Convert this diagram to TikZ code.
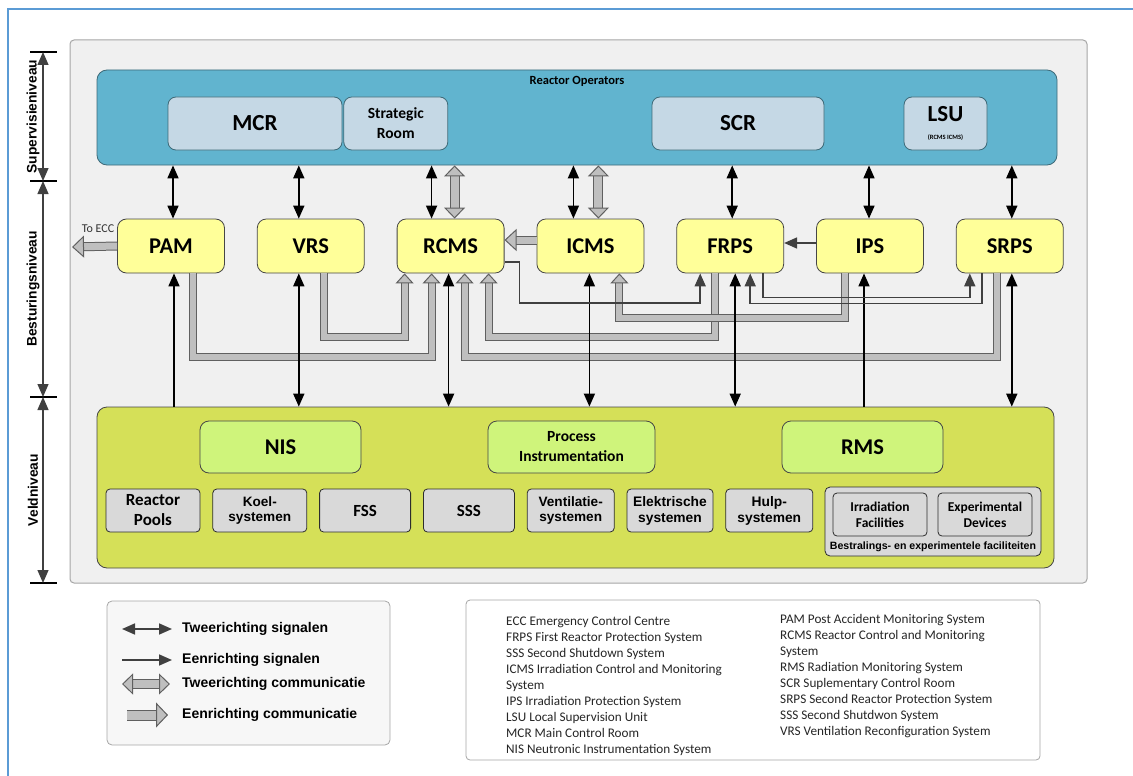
\documentclass[tikz,border=0pt]{standalone}
\usepackage{fontspec}
\setmainfont{Carlito}
\newfontfamily\arialfont{Liberation Sans}
\usetikzlibrary{arrows.meta,positioning}
\definecolor{pageblue}{HTML}{5B9BD5}
\definecolor{framefill}{HTML}{F0F0F0}
\definecolor{frameline}{HTML}{A6A6A6}
\definecolor{opsblue}{HTML}{61B4CF}
\definecolor{opsline}{HTML}{3E6A78}
\definecolor{roomfill}{HTML}{C5D8E5}
\definecolor{ctrlyellow}{HTML}{FFFF99}
\definecolor{fieldgreen}{HTML}{D5E058}
\definecolor{instgreen}{HTML}{CFF47B}
\definecolor{sysgray}{HTML}{D9D9D9}
\definecolor{commfill}{HTML}{BFBFBF}
\definecolor{commline}{HTML}{606060}
\definecolor{sigdark}{HTML}{404040}

\begin{document}
\begin{tikzpicture}[x=1pt,y=-1pt,
node distance=32pt,
boxline/.style={draw=gray!55!black,line width=0.8pt},
room/.style={boxline,draw=opsline,rounded corners=8pt,fill=roomfill,align=center,
  font=\fontsize{23}{24}\selectfont\bfseries,minimum height=53pt},
ctrl/.style={boxline,rounded corners=9pt,fill=ctrlyellow,
  font=\fontsize{22.5}{24}\selectfont\bfseries,minimum width=107pt,minimum height=54pt},
inst/.style={boxline,rounded corners=9pt,fill=instgreen,align=center,
  font=\fontsize{22.5}{24}\selectfont\bfseries,minimum width=161pt,minimum height=52pt},
sys/.style={boxline,draw=gray!35!black,rounded corners=4pt,fill=sysgray,align=center,
  font=\arialfont\fontsize{13.6}{15}\selectfont\bfseries,minimum height=43pt,inner sep=1pt},
syscal/.style={sys,font=\fontsize{17}{20}\selectfont\bfseries},
sig/.style={line width=1.7pt,-{Triangle[length=13pt,width=11pt]}},
sig2/.style={line width=1.7pt,{Triangle[length=13pt,width=11pt]}-{Triangle[length=13pt,width=11pt]}},
comm/.style={draw=commline,line width=1pt,double=commfill,double distance=6pt,
  -{Triangle[length=10pt,width=18pt,line width=1pt,fill=commfill]}},
commbig/.style={comm,double distance=7pt,
  -{Triangle[length=12pt,width=22pt,line width=1pt,fill=commfill]}},
comm2/.style={draw=commline,line width=1pt,double=commfill,double distance=8pt,
  {Triangle[length=11pt,width=21pt,line width=1pt,fill=commfill]}-{Triangle[length=11pt,width=21pt,line width=1pt,fill=commfill]}},
legtxt/.style={anchor=west,inner sep=0pt,font=\arialfont\fontsize{14}{15}\selectfont\bfseries},
lvl/.style={rotate=90,font=\arialfont\fontsize{13.8}{15}\selectfont\bfseries}
]
\useasboundingbox (0,0) rectangle (1133,776);
\draw[pageblue,line width=2pt] (8,776) -- (8,9) -- (1133,9);

% levels on the left
\foreach \y [count=\i] in {52,181,397,583}{
  \coordinate (lv\i) at (43,\y);
  \draw[line width=1.3pt] ([xshift=-13pt]lv\i) -- ([xshift=14pt]lv\i);
}
\foreach \a/\b in {lv1/lv2,lv2/lv3,lv3/lv4}
  \draw[sig2,draw=sigdark,line width=1.2pt] (\a) -- (\b);
\node[lvl] (sup) at (33,116.5) {Supervisieniveau};
\node[lvl] (bes) at (33,289) {Besturingsniveau};
\node[lvl] (vel) at (33,490) {Veldniveau};

\node[draw=frameline,fill=framefill,rounded corners=4pt,line width=1pt,
  minimum width=1017pt,minimum height=543pt] (frame) at (578.5,311.5) {};

% supervision
\node[draw=opsline,fill=opsblue,rounded corners=10pt,line width=0.8pt,
  minimum width=960pt,minimum height=95pt] (ops) at (577,117.5) {};
\node[font=\fontsize{12.5}{13}\selectfont\bfseries] (opslbl) at (577,81) {Reactor Operators};
\node[room,minimum width=174pt] (mcr) at (255,123.5) {MCR};
\node[room,minimum width=104pt,right=1pt of mcr,
  font=\fontsize{15.5}{20}\selectfont\bfseries] (strat) {Strategic\\Room};
\node[room,minimum width=172pt] (scr) at (738,123.5) {SCR};
\node[room,minimum width=83pt] (lsu) at (945.5,123.5)
  {LSU\\[-6pt]{\fontsize{6.5}{7}\selectfont (RCMS ICMS)}};

% control
\node[ctrl] (pam) at (171,246) {PAM};
\node[ctrl,right=of pam] (vrs) {VRS};
\node[ctrl,right=of vrs] (rcms) {RCMS};
\node[ctrl,right=of rcms] (icms) {ICMS};
\node[ctrl,right=of icms] (frps) {FRPS};
\node[ctrl,right=of frps] (ips) {IPS};
\node[ctrl,right=of ips] (srps) {SRPS};
\coordinate (ecc) at (72,247);
\node[font=\fontsize{12}{12}\selectfont,text=black!80] (ecclbl) at (98,229) {To ECC};

% field
\node[boxline,fill=fieldgreen,rounded corners=10pt,
  minimum width=957pt,minimum height=161pt] (field) at (575.5,487.5) {};
\node[inst] (nis) at (280.5,447) {NIS};
\node[inst,minimum width=167pt,font=\fontsize{15.5}{20}\selectfont\bfseries]
  (proc) at (571.5,447) {Process\\Instrumentation};
\node[inst] (rms) at (862.5,447) {RMS};
\node[syscal,minimum width=94pt] (pools) at (153,510.5) {Reactor\\Pools};
\node[sys,minimum width=94pt,right=12pt of pools] (koel) {Koel-\\systemen};
\node[syscal,minimum width=91pt,right=12pt of koel] (fss) {FSS};
\node[syscal,minimum width=91pt,right=12pt of fss] (sss) {SSS};
\node[sys,minimum width=87pt,right=12pt of sss] (vent) {Ventilatie-\\systemen};
\node[sys,minimum width=86pt,right=12pt of vent,font=\arialfont\fontsize{13.8}{16}\selectfont\bfseries]
  (elek) {Elektrische\\systemen};
\node[sys,minimum width=87pt,right=12pt of elek,font=\arialfont\fontsize{13.8}{16}\selectfont\bfseries]
  (hulp) {Hulp-\\systemen};
\node[sys,minimum width=216pt,minimum height=69pt,rounded corners=5pt] (fac) at (933,521.5) {};
\node[syscal,minimum width=94pt,font=\fontsize{13.5}{16}\selectfont\bfseries] (irr) at (880,514.5)
  {Irradiation\\Facilities};
\node[syscal,minimum width=94pt,font=\fontsize{13.5}{16}\selectfont\bfseries] (exp) at (985,514.5)
  {Experimental\\Devices};
\node[font=\arialfont\fontsize{10.6}{11}\selectfont\bfseries] (faclbl) at (933,547)
  {Bestralings- en experimentele faciliteiten};

% communication
\draw[comm] ([xshift=13pt]vrs.south) -- ++(0,64) -| ([xshift=-46pt]rcms.south);
\draw[comm] ([xshift=22pt]pam.south) -- ++(0,84) -| ([xshift=-19pt]rcms.south);
\draw[comm] ([xshift=-13pt]srps.south) -- ++(0,84) -| ([xshift=14pt]rcms.south);
\draw[comm] ([xshift=-15pt]frps.south) -- ++(0,64) -| ([xshift=38pt]rcms.south);
\draw[comm] ([xshift=-25pt]ips.south) -- ++(0,45) -| ([xshift=29pt]icms.south);
\draw[commbig] ([yshift=6pt]icms.west) -- ([yshift=6pt]rcms.east);
\draw[commbig] (pam.west) -- (ecc);
\draw[comm2] ([xshift=4pt]rcms.north) -- ([xshift=4pt]rcms.north |- ops.south);
\draw[comm2] ([xshift=8pt]icms.north) -- ([xshift=8pt]icms.north |- ops.south);

% signals
\foreach \n/\dx in {pam/2,vrs/-12,rcms/-19,icms/-17,frps/2,ips/-1,srps/2}
  \draw[sig2] ([xshift=\dx pt]\n.north |- ops.south) -- ([xshift=\dx pt]\n.north);
\foreach \n/\dx in {vrs/-12,rcms/-2,icms/-1,frps/5,srps/2}
  \draw[sig2] ([xshift=\dx pt]\n.south) -- ([xshift=\dx pt]\n.south |- field.north);
\foreach \n/\dx in {pam/3,ips/-6}
  \draw[sig] ([xshift=\dx pt]\n.south |- field.north) -- ([xshift=\dx pt]\n.south);
\draw[sig,draw=sigdark] ([yshift=-16pt]rcms.east) -| ++(15,41) -| ([xshift=-30pt]frps.south);
\draw[sig,draw=sigdark] ([xshift=33pt]frps.south) -- ++(0,24) -| ([xshift=-40pt]srps.south);
\draw[sig,draw=sigdark] ([xshift=-28pt]srps.south) -- ++(0,30) -| ([xshift=20pt]frps.south);
\draw[sig,draw=sigdark] ([yshift=3pt]ips.west) -- ([yshift=3pt]frps.east);

% legend
\node[draw=gray!70,fill=gray!6,rounded corners=5pt,line width=0.8pt,
  minimum width=283pt,minimum height=144pt] (legend) at (248.5,673) {};
\node[legtxt] (l1) at (182,629) {Tweerichting signalen};
\node[legtxt] (l2) at (182,660) {Eenrichting signalen};
\node[legtxt] (l3) at (182,684) {Tweerichting communicatie};
\node[legtxt] (l4) at (182,715) {Eenrichting communicatie};
\draw[sig2,draw=sigdark] ([xshift=-60pt]l1.west) -- ([xshift=-10pt]l1.west);
\draw[sig,draw=sigdark] ([xshift=-60pt]l2.west) -- ([xshift=-10pt]l2.west);
\draw[comm2] ([xshift=-60pt]l3.west) -- ([xshift=-12pt]l3.west);
\draw[comm,double distance=9pt,-{Triangle[length=12pt,width=25pt,line width=1pt,fill=commfill]}]
  ([xshift=-55pt]l4.west) -- ([xshift=-14pt]l4.west);

% abbreviations
\node[draw=gray!70,fill=white,rounded corners=4pt,line width=0.8pt,
  minimum width=574pt,minimum height=160pt] (abbr) at (753,680) {};
\node[anchor=north west,inner sep=0pt,align=left,text=black!85,
  font=\fontsize{13.2}{16}\selectfont] (abbr1) at (506,616)
  {ECC Emergency Control Centre\\FRPS First Reactor Protection System\\
   SSS Second Shutdown System\\ICMS Irradiation Control and Monitoring\\System\\
   IPS Irradiation Protection System\\LSU Local Supervision Unit\\
   MCR Main Control Room\\NIS Neutronic Instrumentation System};
\node[anchor=north west,inner sep=0pt,align=left,text=black!85,
  font=\fontsize{13.2}{16}\selectfont] (abbr2) at (780,614)
  {PAM Post Accident Monitoring System\\RCMS Reactor Control and Monitoring\\System\\
   RMS Radiation Monitoring System\\SCR Suplementary Control Room\\
   SRPS Second Reactor Protection System\\SSS Second Shutdwon System\\
   VRS Ventilation Reconfiguration System};
\end{tikzpicture}
\end{document}
